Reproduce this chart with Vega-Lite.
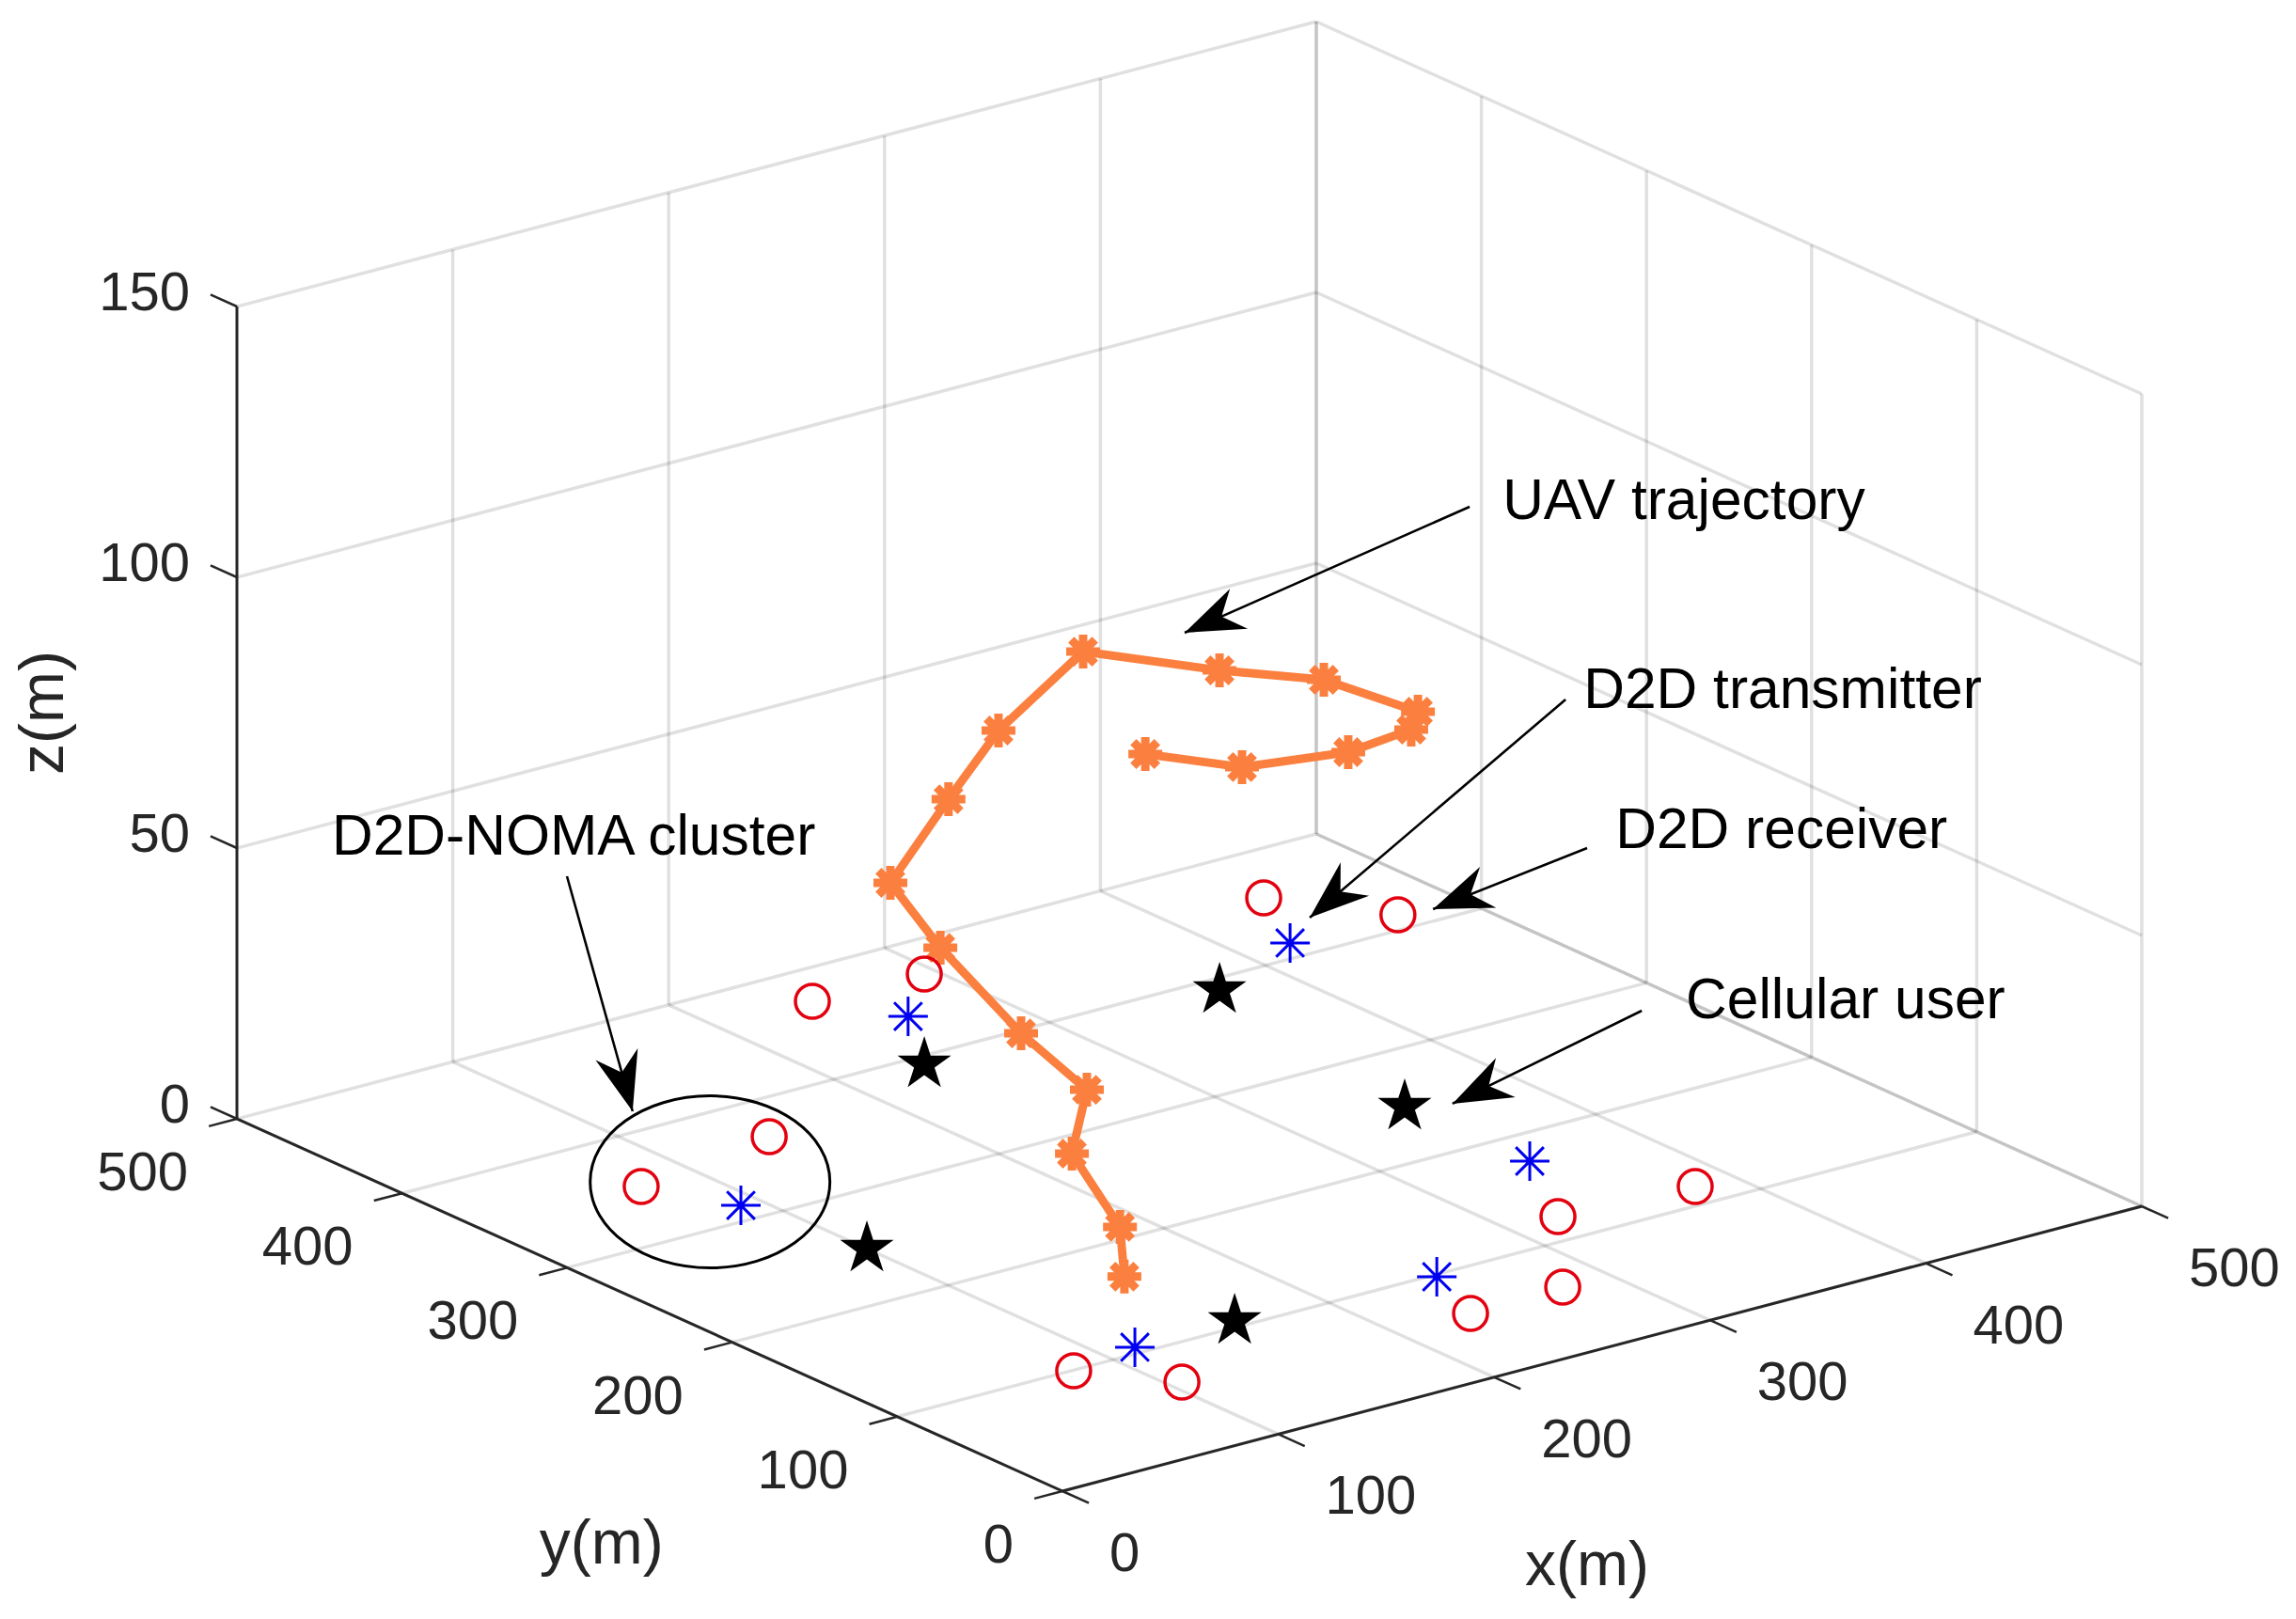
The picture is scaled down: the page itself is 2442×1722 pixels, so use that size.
{
"$schema":"https://vega.github.io/schema/vega-lite/v6.json",
"width":2442,"height":1722,"autosize":"none","padding":0,"background":"white",
"config":{"view":{"stroke":null}},
"data":{"values":[
{"kind":"grid","x":0,"y":0,"z":0,"x2":0,"y2":500,"z2":0},
{"kind":"grid","x":100,"y":0,"z":0,"x2":100,"y2":500,"z2":0},
{"kind":"grid","x":200,"y":0,"z":0,"x2":200,"y2":500,"z2":0},
{"kind":"grid","x":300,"y":0,"z":0,"x2":300,"y2":500,"z2":0},
{"kind":"grid","x":400,"y":0,"z":0,"x2":400,"y2":500,"z2":0},
{"kind":"grid","x":500,"y":0,"z":0,"x2":500,"y2":500,"z2":0},
{"kind":"grid","x":0,"y":0,"z":0,"x2":500,"y2":0,"z2":0},
{"kind":"grid","x":0,"y":100,"z":0,"x2":500,"y2":100,"z2":0},
{"kind":"grid","x":0,"y":200,"z":0,"x2":500,"y2":200,"z2":0},
{"kind":"grid","x":0,"y":300,"z":0,"x2":500,"y2":300,"z2":0},
{"kind":"grid","x":0,"y":400,"z":0,"x2":500,"y2":400,"z2":0},
{"kind":"grid","x":0,"y":500,"z":0,"x2":500,"y2":500,"z2":0},
{"kind":"grid","x":100,"y":500,"z":0,"x2":100,"y2":500,"z2":150},
{"kind":"grid","x":200,"y":500,"z":0,"x2":200,"y2":500,"z2":150},
{"kind":"grid","x":300,"y":500,"z":0,"x2":300,"y2":500,"z2":150},
{"kind":"grid","x":400,"y":500,"z":0,"x2":400,"y2":500,"z2":150},
{"kind":"grid","x":500,"y":500,"z":0,"x2":500,"y2":500,"z2":150},
{"kind":"grid","x":0,"y":500,"z":50,"x2":500,"y2":500,"z2":50},
{"kind":"grid","x":0,"y":500,"z":100,"x2":500,"y2":500,"z2":100},
{"kind":"grid","x":0,"y":500,"z":150,"x2":500,"y2":500,"z2":150},
{"kind":"grid","x":500,"y":0,"z":0,"x2":500,"y2":0,"z2":150},
{"kind":"grid","x":500,"y":100,"z":0,"x2":500,"y2":100,"z2":150},
{"kind":"grid","x":500,"y":200,"z":0,"x2":500,"y2":200,"z2":150},
{"kind":"grid","x":500,"y":300,"z":0,"x2":500,"y2":300,"z2":150},
{"kind":"grid","x":500,"y":400,"z":0,"x2":500,"y2":400,"z2":150},
{"kind":"grid","x":500,"y":500,"z":0,"x2":500,"y2":500,"z2":150},
{"kind":"grid","x":500,"y":0,"z":0,"x2":500,"y2":500,"z2":0},
{"kind":"grid","x":500,"y":0,"z":50,"x2":500,"y2":500,"z2":50},
{"kind":"grid","x":500,"y":0,"z":100,"x2":500,"y2":500,"z2":100},
{"kind":"grid","x":500,"y":0,"z":150,"x2":500,"y2":500,"z2":150},
{"kind":"axis","x":0,"y":0,"z":0,"x2":500,"y2":0,"z2":0},
{"kind":"axis","x":0,"y":0,"z":0,"x2":0,"y2":500,"z2":0},
{"kind":"axis","x":0,"y":500,"z":0,"x2":0,"y2":500,"z2":150},
{"kind":"tick","x":0,"y":0,"z":0,"x2":0,"y2":-16,"z2":0},
{"kind":"tick","x":100,"y":0,"z":0,"x2":100,"y2":-16,"z2":0},
{"kind":"tick","x":200,"y":0,"z":0,"x2":200,"y2":-16,"z2":0},
{"kind":"tick","x":300,"y":0,"z":0,"x2":300,"y2":-16,"z2":0},
{"kind":"tick","x":400,"y":0,"z":0,"x2":400,"y2":-16,"z2":0},
{"kind":"tick","x":500,"y":0,"z":0,"x2":500,"y2":-16,"z2":0},
{"kind":"tick","x":0,"y":0,"z":0,"x2":-13,"y2":0,"z2":0},
{"kind":"tick","x":0,"y":100,"z":0,"x2":-13,"y2":100,"z2":0},
{"kind":"tick","x":0,"y":200,"z":0,"x2":-13,"y2":200,"z2":0},
{"kind":"tick","x":0,"y":300,"z":0,"x2":-13,"y2":300,"z2":0},
{"kind":"tick","x":0,"y":400,"z":0,"x2":-13,"y2":400,"z2":0},
{"kind":"tick","x":0,"y":500,"z":0,"x2":-13,"y2":500,"z2":0},
{"kind":"tick","x":0,"y":500,"z":0,"x2":0,"y2":516,"z2":0},
{"kind":"tick","x":0,"y":500,"z":50,"x2":0,"y2":516,"z2":50},
{"kind":"tick","x":0,"y":500,"z":100,"x2":0,"y2":516,"z2":100},
{"kind":"tick","x":0,"y":500,"z":150,"x2":0,"y2":516,"z2":150},
{"kind":"xlabel","x":0,"y":0,"z":0,"label":"0"},
{"kind":"xlabel","x":100,"y":0,"z":0,"label":"100"},
{"kind":"xlabel","x":200,"y":0,"z":0,"label":"200"},
{"kind":"xlabel","x":300,"y":0,"z":0,"label":"300"},
{"kind":"xlabel","x":400,"y":0,"z":0,"label":"400"},
{"kind":"xlabel","x":500,"y":0,"z":0,"label":"500"},
{"kind":"ylabel","x":0,"y":0,"z":0,"label":"0"},
{"kind":"ylabel","x":0,"y":100,"z":0,"label":"100"},
{"kind":"ylabel","x":0,"y":200,"z":0,"label":"200"},
{"kind":"ylabel","x":0,"y":300,"z":0,"label":"300"},
{"kind":"ylabel","x":0,"y":400,"z":0,"label":"400"},
{"kind":"ylabel","x":0,"y":500,"z":0,"label":"500"},
{"kind":"zlabel","x":0,"y":500,"z":0,"label":"0"},
{"kind":"zlabel","x":0,"y":500,"z":50,"label":"50"},
{"kind":"zlabel","x":0,"y":500,"z":100,"label":"100"},
{"kind":"zlabel","x":0,"y":500,"z":150,"label":"150"},
{"kind":"title","x":106.4,"y":-178.6,"z":0,"label":"x(m)"},
{"kind":"title","x":-167.6,"y":60,"z":0,"label":"y(m)"},
{"kind":"ztitle","x":0,"y":500,"z":75,"label":"z(m)"},
{"kind":"note","x":771.6,"y":741.7,"z":0,"label":"UAV trajectory"},
{"kind":"note","x":672.8,"y":563.5,"z":0,"label":"D2D transmitter"},
{"kind":"note","x":591.4,"y":437.7,"z":0,"label":"D2D receiver"},
{"kind":"note","x":501.7,"y":277.8,"z":0,"label":"Cellular user"},
{"kind":"note","x":212,"y":719.1,"z":0,"label":"D2D-NOMA cluster"},
{"kind":"arrow","x":756.8,"y":742.9,"z":0,"x2":591.9,"y2":699.9,"z2":0},
{"kind":"arrow","x":660,"y":558.2,"z":0,"x2":443.9,"y2":430.6,"z2":0},
{"kind":"arrow","x":570,"y":427.5,"z":0,"x2":485.4,"y2":410.2,"z2":0},
{"kind":"arrow","x":480.6,"y":277.5,"z":0,"x2":365,"y2":241,"z2":0},
{"kind":"arrow","x":253.6,"y":631.7,"z":0,"x2":120.5,"y2":417.9,"z2":0},
{"kind":"cluster","x":97.4,"y":340.8,"z":0},
{"kind":"receiver","x":443.2,"y":457.6,"z":0},
{"kind":"receiver","x":471.5,"y":413.3,"z":0},
{"kind":"receiver","x":294.7,"y":469,"z":0},
{"kind":"receiver","x":244.3,"y":470.9,"z":0},
{"kind":"receiver","x":144,"y":365.9,"z":0},
{"kind":"receiver","x":74.3,"y":352.3,"z":0},
{"kind":"receiver","x":382.3,"y":116.6,"z":0},
{"kind":"receiver","x":322.7,"y":121.8,"z":0},
{"kind":"receiver","x":278.4,"y":61,"z":0},
{"kind":"receiver","x":234.4,"y":59.3,"z":0},
{"kind":"receiver","x":81.3,"y":99.5,"z":0},
{"kind":"receiver","x":105.6,"y":65.7,"z":0},
{"kind":"transmitter","x":421.7,"y":413.5,"z":0},
{"kind":"transmitter","x":262.5,"y":436.7,"z":0},
{"kind":"transmitter","x":91.2,"y":314,"z":0},
{"kind":"transmitter","x":350.4,"y":175.1,"z":0},
{"kind":"transmitter","x":248.3,"y":97.9,"z":0},
{"kind":"transmitter","x":114.4,"y":105.7,"z":0},
{"kind":"cellular","x":370.6,"y":389.4,"z":0},
{"kind":"cellular","x":236.2,"y":392.5,"z":0},
{"kind":"cellular","x":349.2,"y":249.3,"z":0},
{"kind":"cellular","x":100,"y":249.2,"z":0},
{"kind":"cellular","x":160.6,"y":105.7,"z":0},
{"kind":"uav","seq":1,"x":86.9,"y":76.1,"z":20},
{"kind":"uav","seq":2,"x":100.3,"y":96.3,"z":25},
{"kind":"uav","seq":3,"x":116.2,"y":146.2,"z":30},
{"kind":"uav","seq":4,"x":144.4,"y":174,"z":35},
{"kind":"uav","seq":5,"x":144.2,"y":213.6,"z":40},
{"kind":"uav","seq":6,"x":158.5,"y":281.2,"z":45},
{"kind":"uav","seq":7,"x":168.4,"y":324.4,"z":50},
{"kind":"uav","seq":8,"x":204.5,"y":336.4,"z":60},
{"kind":"uav","seq":9,"x":228.5,"y":337.5,"z":70},
{"kind":"uav","seq":10,"x":269.3,"y":339.6,"z":80},
{"kind":"uav","seq":11,"x":297,"y":293.2,"z":80},
{"kind":"uav","seq":12,"x":321.4,"y":261.9,"z":80},
{"kind":"uav","seq":13,"x":328.2,"y":213.8,"z":80},
{"kind":"uav","seq":14,"x":314.6,"y":200.1,"z":80},
{"kind":"uav","seq":15,"x":281.6,"y":195.1,"z":80},
{"kind":"uav","seq":16,"x":240.9,"y":206.2,"z":80},
{"kind":"uav","seq":17,"x":221.1,"y":238.9,"z":80}
]},
"transform":[
{"calculate":"1130+2.296*datum.x-1.756*datum.y","as":"sx"},
{"calculate":"1586-0.606*datum.x-0.792*datum.y-5.76*datum.z","as":"sy"},
{"calculate":"1130+2.296*datum.x2-1.756*datum.y2","as":"ex"},
{"calculate":"1586-0.606*datum.x2-0.792*datum.y2-5.76*datum.z2","as":"ey"},
{"calculate":"360+atan2(datum.ex-datum.sx,datum.sy-datum.ey)*180/PI","as":"heading"}
],
"encoding":{
"x":{"field":"sx","type":"quantitative","scale":{"domain":[0,2442],"nice":false,"zero":false},"axis":null},
"y":{"field":"sy","type":"quantitative","scale":{"domain":[1722,0],"nice":false,"zero":false},"axis":null}
},
"layer":[
{"transform":[{"filter":"datum.kind=='grid'"}],"mark":{"type":"rule","color":"#000000","opacity":0.12,"strokeWidth":3.5},"encoding":{"x2":{"field":"ex"},"y2":{"field":"ey"}}},
{"transform":[{"filter":"datum.kind=='axis'"}],"mark":{"type":"rule","color":"#262626","strokeWidth":3},"encoding":{"x2":{"field":"ex"},"y2":{"field":"ey"}}},
{"transform":[{"filter":"datum.kind=='tick'"}],"mark":{"type":"rule","color":"#262626","strokeWidth":2.5},"encoding":{"x2":{"field":"ex"},"y2":{"field":"ey"}}},
{"transform":[{"filter":"datum.kind=='xlabel'"}],"mark":{"type":"text","font":"Liberation Sans","fontSize":58,"color":"#262626","align":"left","baseline":"middle","dx":50,"dy":68},"encoding":{"text":{"field":"label"}}},
{"transform":[{"filter":"datum.kind=='ylabel'"}],"mark":{"type":"text","font":"Liberation Sans","fontSize":58,"color":"#262626","align":"right","baseline":"middle","dx":-52,"dy":59},"encoding":{"text":{"field":"label"}}},
{"transform":[{"filter":"datum.kind=='zlabel'"}],"mark":{"type":"text","font":"Liberation Sans","fontSize":58,"color":"#262626","align":"right","baseline":"middle","dx":-50,"dy":-13},"encoding":{"text":{"field":"label"}}},
{"transform":[{"filter":"datum.kind=='title'"}],"mark":{"type":"text","font":"Liberation Sans","fontSize":66,"color":"#262626","align":"center","baseline":"middle","dy":3},"encoding":{"text":{"field":"label"}}},
{"transform":[{"filter":"datum.kind=='ztitle'"}],"mark":{"type":"text","font":"Liberation Sans","fontSize":66,"color":"#262626","align":"center","baseline":"middle","angle":270,"dy":-205},"encoding":{"text":{"field":"label"}}},
{"transform":[{"filter":"datum.kind=='note'"}],"mark":{"type":"text","font":"Liberation Sans","fontSize":60.5,"color":"#000000","align":"left","baseline":"middle","dx":-1,"dy":3},"encoding":{"text":{"field":"label"}}},
{"transform":[{"filter":"datum.kind=='cluster'"}],"mark":{"type":"point","filled":false,"opacity":1,"color":"#000000","strokeWidth":3,"size":65025,"shape":"M-1,0 C-1,-.397 -.552,-.718 0,-.718 C.552,-.718 1,-.397 1,0 C1,.397 .552,.718 0,.718 C-.552,.718 -1,.397 -1,0 Z"}},
{"transform":[{"filter":"datum.kind=='uav'"}],"mark":{"type":"line","color":"#fb8040","strokeWidth":9},"encoding":{"order":{"field":"seq","type":"quantitative"}}},
{"transform":[{"filter":"datum.kind=='uav'"}],"mark":{"type":"point","filled":false,"opacity":1,"color":"#fb8040","strokeWidth":9,"size":1296,"shape":"M-1,0L1,0M0,-1L0,1M-.707,-.707L.707,.707M-.707,.707L.707,-.707"}},
{"transform":[{"filter":"datum.kind=='receiver'"}],"mark":{"type":"point","filled":false,"opacity":1,"color":"#e3000f","strokeWidth":3.5,"size":1300,"shape":"circle"}},
{"transform":[{"filter":"datum.kind=='transmitter'"}],"mark":{"type":"point","filled":false,"opacity":1,"color":"#0000f0","strokeWidth":3,"size":1764,"shape":"M-1,0L1,0M0,-1L0,1M-.707,-.707L.707,.707M-.707,.707L.707,-.707"}},
{"transform":[{"filter":"datum.kind=='cellular'"}],"mark":{"type":"point","filled":true,"opacity":1,"color":"#000000","size":3600,"shape":"M0,-1L.2245,-.309L.951,-.309L.363,.118L.588,.809L0,.382L-.588,.809L-.363,.118L-.951,-.309L-.2245,-.309Z"}},
{"transform":[{"filter":"datum.kind=='arrow'"}],"mark":{"type":"rule","color":"#000000","strokeWidth":2.6},"encoding":{"x2":{"field":"ex"},"y2":{"field":"ey"}}},
{"transform":[{"filter":"datum.kind=='arrow'"}],"mark":{"type":"point","filled":true,"opacity":1,"color":"#000000","size":15876,"shape":"M0,0L-.37,1L0,.68L.37,1Z"},"encoding":{"x":{"field":"ex","type":"quantitative"},"y":{"field":"ey","type":"quantitative"},"angle":{"field":"heading","type":"quantitative","scale":null}}}
]
}
